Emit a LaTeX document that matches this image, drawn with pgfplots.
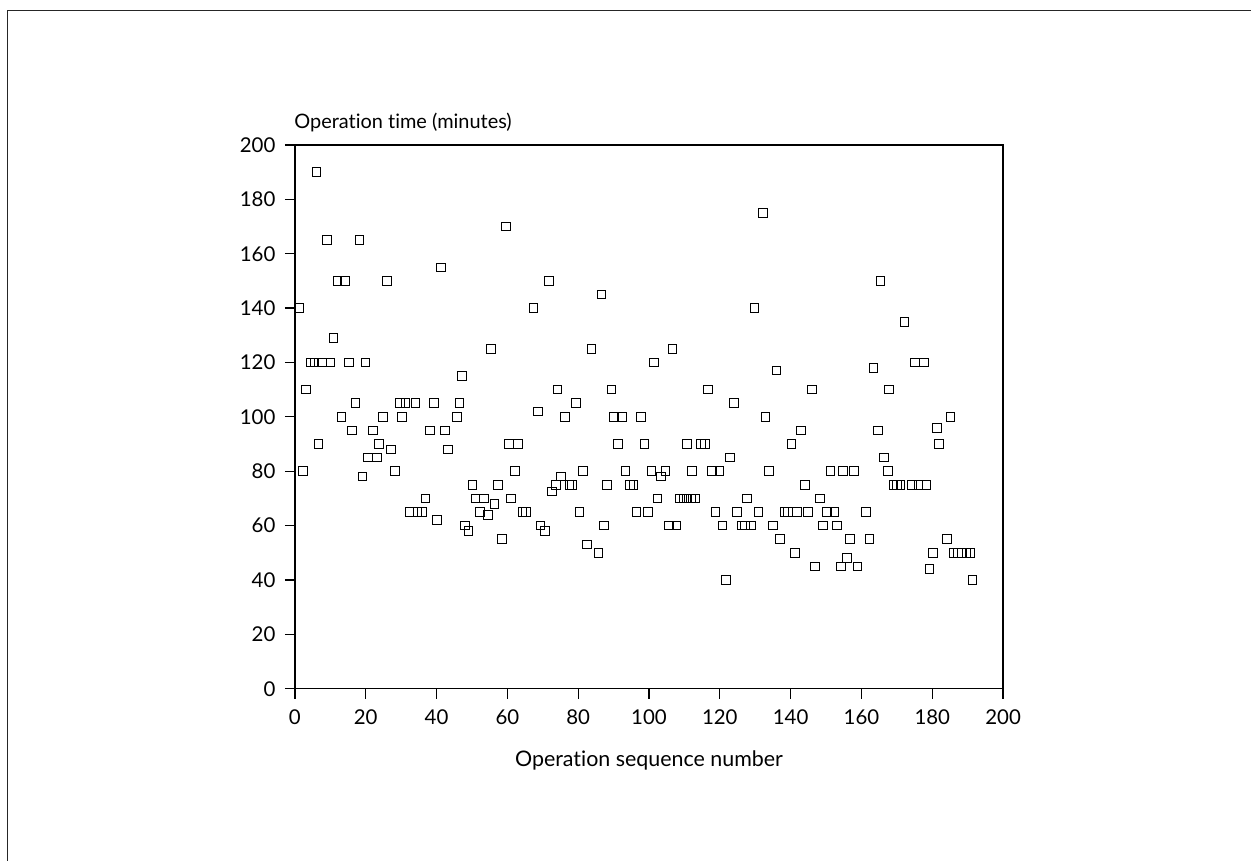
\documentclass[border=0pt]{standalone}
\usepackage{fontspec}
\setmainfont{Lato}[Ligatures={NoCommon}]
\usepackage{pgfplots}
\pgfplotsset{compat=1.18}
\begin{document}
\begin{tikzpicture}
\path (0bp,0bp) rectangle (1251bp,861bp);
\draw[line width=1bp, black!85] (8bp,0bp) -- (8bp,850bp) -- (1251bp,850bp);
\begin{axis}[
  at={(295bp,172bp)}, anchor=south west,
  scale only axis, width=708.5bp, height=544bp,
  xmin=0, xmax=200, ymin=0, ymax=200,
  xtick={0,20,...,200}, ytick={0,20,...,200},
  tick align=outside, major tick length=10bp,
  xtick pos=bottom, ytick pos=left,
  axis line style={line width=1.3bp, black},
  tick style={line width=1.3bp, black},
  ticklabel style={font=\fontsize{20.5}{24}\selectfont},
  xticklabel style={yshift=-7bp},
  yticklabel style={xshift=-6bp},
  /pgf/number format/assume math mode=true,
  xlabel={Operation sequence number},
  ylabel={Operation time (minutes)},
  xlabel style={font=\fontsize{21.5}{24}\selectfont, at={(rel axis cs:0.5,0)}, anchor=base, yshift=-78bp},
  ylabel style={font=\fontsize{20}{24}\selectfont, rotate=-90, at={(rel axis cs:0,1)}, anchor=base west, yshift=16bp, xshift=-4bp},
  clip=false,
]
\addplot[only marks, mark=square, mark size=4.3bp, mark options={draw=black, fill=none, line width=0.9bp}] coordinates {
(1.2,140) (2.3,80) (3.1,110) (4.4,120) (5.5,120) (6.1,190) (6.7,90) (7.7,120)
(9.0,165) (10.1,120) (10.9,129) (12.0,150) (13.1,100) (14.2,150) (15.2,120)
(16.1,95) (17.1,105) (18.2,165) (19.1,78) (19.9,120) (20.7,85) (22.1,95)
(23.1,85) (23.8,90) (24.9,100) (26.0,150) (27.1,88) (28.2,80) (29.7,105)
(30.3,100) (31.2,105) (32.3,65) (34.1,105) (34.6,65) (35.8,65) (36.9,70)
(38.1,95) (39.2,105) (40.1,62) (41.2,155) (42.3,95) (43.3,88) (45.7,100)
(46.5,105) (47.1,115) (48.0,60) (49.0,58) (50.1,75) (51.0,70) (52.3,65)
(53.4,70) (54.5,64) (55.3,125) (56.3,68) (57.4,75) (58.5,55) (59.6,170)
(60.5,90) (61.1,70) (62.1,80) (63.0,90) (64.3,65) (65.3,65) (67.4,140)
(68.6,102) (69.4,60) (70.6,58) (71.7,150) (72.6,72.5) (73.8,75) (74.2,110)
(75.2,78) (76.2,100) (77.5,75) (78.2,75) (79.4,105) (80.4,65) (81.4,80)
(82.4,53) (83.7,125) (85.7,50) (86.6,145) (87.3,60) (88.2,75) (89.4,110)
(90.0,100) (91.3,90) (92.5,100) (93.4,80) (94.6,75) (95.6,75) (96.5,65)
(97.7,100) (98.7,90) (99.7,65) (100.7,80) (101.4,120) (102.4,70) (103.4,78)
(104.6,80) (105.6,60) (106.6,125) (107.8,60) (108.7,70) (109.8,70) (110.7,90)
(110.8,70) (111.9,70) (112.1,80) (112.9,70) (114.7,90) (115.8,90) (116.7,110)
(117.7,80) (118.8,65) (119.9,80) (120.7,60) (121.8,40) (122.9,85) (124.0,105)
(124.9,65) (126.3,60) (127.1,60) (127.6,70) (128.8,60) (129.8,140) (130.9,65)
(132.1,175) (132.9,100) (133.9,80) (135.0,60) (136.0,117) (137.0,55) (138.2,65)
(139.2,65) (140.2,90) (141.2,50) (141.7,65) (142.9,95) (144.0,75) (144.9,65)
(146.0,110) (146.9,45) (148.2,70) (149.2,60) (150.2,65) (151.2,80) (152.4,65)
(153.1,60) (154.2,45) (154.8,80) (155.9,48) (156.8,55) (157.9,80) (158.9,45)
(161.2,65) (162.3,55) (163.4,118) (164.7,95) (165.4,150) (166.3,85) (167.4,80)
(167.8,110) (169.0,75) (170.0,75) (171.0,75) (172.1,135) (174.2,75) (175.1,120)
(176.1,75) (177.6,120) (178.4,75) (179.2,44) (180.2,50) (181.4,96) (181.8,90)
(184.1,55) (185.1,100) (186.0,50) (187.2,50) (188.4,50) (189.6,50) (190.6,50)
(191.3,40)
};
\end{axis}
\end{tikzpicture}
\end{document}
